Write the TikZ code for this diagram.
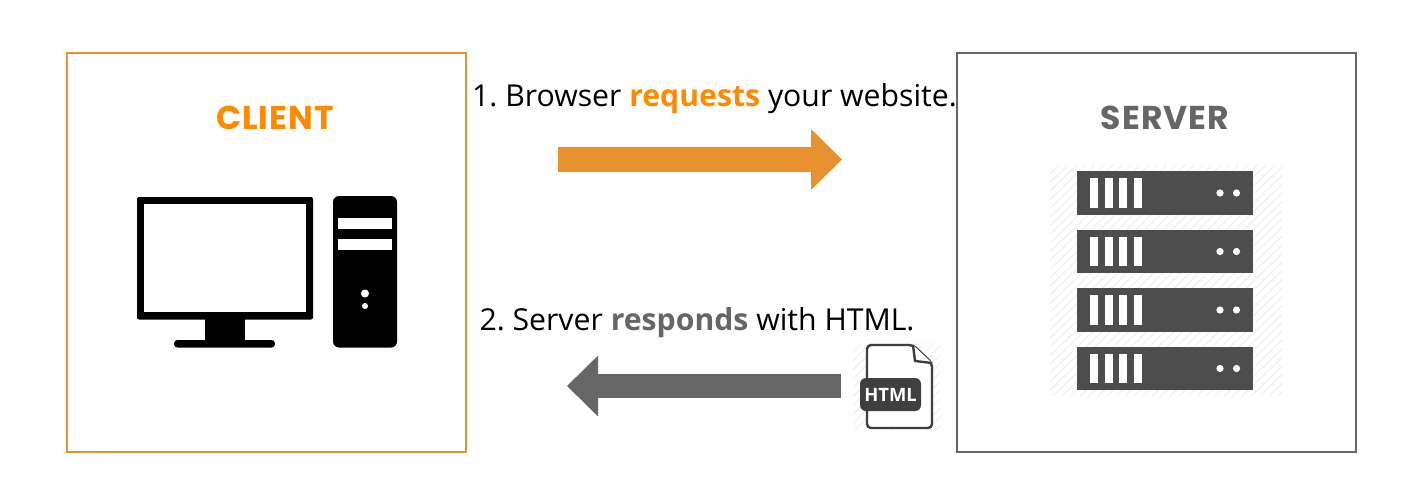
\documentclass[tikz,border=0pt]{standalone}
\usepackage{fontspec}
\setmainfont{Open Sans}
\newfontfamily\titlefont[LetterSpace=3]{Poppins}
\usetikzlibrary{arrows.meta}
\definecolor{cliorange}{HTML}{E8912F}
\definecolor{txtorange}{HTML}{FF8A00}
\definecolor{srvgray}{HTML}{666666}
\definecolor{rackgray}{HTML}{4D4D4D}
\definecolor{hatchgray}{HTML}{F1F1F1}
\definecolor{htmlgray}{HTML}{3F3F3F}
\tikzset{
  panel/.style={draw=#1,line width=0.75pt,minimum width=199.5pt,minimum height=199.5pt,inner sep=0pt,fill=white},
  paneltitle/.style={font=\titlefont\bfseries\fontsize{16.5}{18}\selectfont,text=#1,inner sep=0pt},
  caption/.style={font=\fontsize{15.1}{18}\selectfont\frenchspacing,text=black,inner sep=0pt},
  bigarrow/.style={draw=#1,line width=12.2pt,-{Triangle[length=15.5pt,width=29.5pt,fill=#1]},shorten >=0pt},
  hatch/.style={draw=hatchgray,line width=0.6pt},
  blackshape/.style={fill=black,draw=none},
  holeshape/.style={fill=white,draw=none},
  rack/.style={fill=rackgray,draw=none},
}
\begin{document}
\begin{tikzpicture}[x=0.5pt,y=-0.5pt]
\useasboundingbox (0,0) rectangle (1428,494);
\fill[white] (0,0) rectangle (1428,494);
% panels
\node[panel=cliorange] (client) at (266.5,252.5) {};
\node[panel=srvgray] (server) at (1156.5,252.5) {};
\node[paneltitle=txtorange] (clienttitle) at (275,118) {CLIENT};
\node[paneltitle=srvgray] (servertitle) at (1165,118) {SERVER};
% captions
\node[caption,anchor=base] (cap1) at (714.5,106) {1. Browser {\bfseries\color{txtorange}requests} your website.};
\node[caption,anchor=base] (cap2) at (697,330) {2. Server {\bfseries\color{srvgray}responds} with HTML.};
% arrows
\coordinate (a1s) at (558,159.5);
\coordinate (a1e) at (842,159.5);
\coordinate (a2s) at (841,386);
\coordinate (a2e) at (567,386);
\draw[bigarrow=cliorange] (a1s) -- (a1e);
\draw[bigarrow=srvgray] (a2s) -- (a2e);
% monitor
\fill[blackshape,rounded corners=1pt] (137,197) rectangle (313,319.5);
\fill[holeshape] (144,204) rectangle (306,312);
\fill[blackshape] (205,319) rectangle (245,341);
\fill[blackshape,rounded corners=1.7pt] (174,340) rectangle (275,347.5);
% tower
\fill[blackshape,rounded corners=3pt] (333,196) rectangle (397,347.5);
\fill[holeshape] (338,218) rectangle (392,228.5);
\fill[holeshape] (338,239) rectangle (392,250);
\fill[holeshape] (365,293.5) circle (4);
\fill[holeshape] (365,306) circle (3);
% server hatch
\begin{scope}
\clip (1050,165) rectangle (1282,396);
\foreach \i in {0,9,...,470}
  \draw[hatch] (1050+\i-240,396) -- (1050+\i,165);
\end{scope}
% racks
\foreach \y in {171,229.5,288,346.5}{
  \fill[rack] (1077,\y) rectangle (1253,\y+43.5);
  \foreach \x in {1090,1104.7,1119.3,1134}
    \fill[white] (\x,\y+7) rectangle (\x+8,\y+36.5);
  \fill[white] (1220,\y+22) circle (3.6);
  \fill[white] (1236.5,\y+22) circle (3.6);
}
% html icon
\begin{scope}
\clip (853,343) rectangle (940,430);
\foreach \i in {0,9,...,180}
  \draw[hatch] (853+\i-88,430) -- (853+\i,343);
\end{scope}
\draw[draw=htmlgray,fill=white,line width=1.2pt,line join=round,rounded corners=2pt]
  (867,345) -- (913,345) -- (932,363) -- (932,428) -- (867,428) -- cycle;
\draw[draw=htmlgray,fill=white,line width=1.2pt,line join=round]
  (913,345) -- (915,361) -- (932,363);
\fill[htmlgray,rounded corners=3pt] (860,378) rectangle (921,411);
\node[font=\fontsize{9.2}{11}\bfseries\selectfont,text=white,inner sep=0pt] (htmllabel) at (890.5,394.5) {HTML};
\end{tikzpicture}
\end{document}
